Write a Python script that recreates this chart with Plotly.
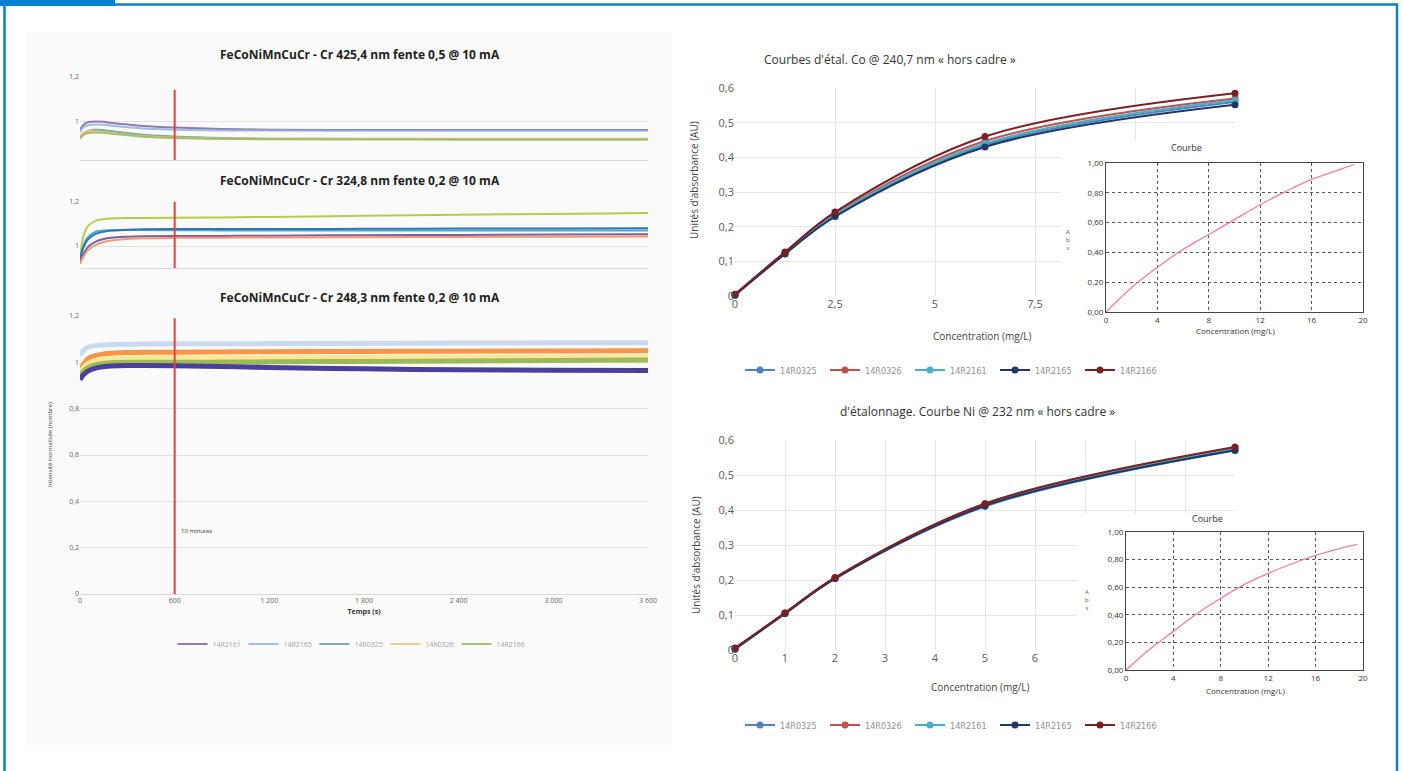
import plotly.graph_objects as go

W, H = 1403, 771


def fx(px):
    return px / W


def fy(py):
    return 1 - py / H


# ---------------- DATA ----------------
# Left panel: normalised intensity vs time (s)
T = [0, 20, 50, 100, 150, 200, 300, 400, 600, 900, 1200, 1800, 2400, 3000, 3600]
left_names = ["14R2161", "14R2165", "14R0325", "14R0326", "14R2166"]
TEN_MIN = 600

# Cr 425,4 nm
c1_s1 = [0.965, 0.985, 0.998, 1.002, 1.000, 0.995, 0.988, 0.982, 0.975, 0.968, 0.965, 0.964, 0.964, 0.964, 0.964]
c1_s2 = [0.955, 0.975, 0.985, 0.988, 0.987, 0.983, 0.976, 0.970, 0.965, 0.962, 0.961, 0.960, 0.960, 0.960, 0.960]
c1_s3 = [0.930, 0.948, 0.960, 0.965, 0.963, 0.958, 0.950, 0.943, 0.935, 0.928, 0.925, 0.924, 0.923, 0.923, 0.923]
c1_s4 = [0.935, 0.950, 0.958, 0.958, 0.955, 0.950, 0.943, 0.937, 0.930, 0.926, 0.925, 0.925, 0.925, 0.925, 0.925]
c1_s5 = [0.925, 0.940, 0.950, 0.953, 0.951, 0.947, 0.940, 0.934, 0.928, 0.924, 0.922, 0.921, 0.921, 0.921, 0.921]

# Cr 324,8 nm
c2_s1 = [0.930, 1.040, 1.090, 1.115, 1.122, 1.125, 1.127, 1.127, 1.128, 1.130, 1.132, 1.137, 1.142, 1.146, 1.150]
c2_s2 = [0.930, 1.000, 1.040, 1.065, 1.070, 1.072, 1.073, 1.073, 1.072, 1.071, 1.071, 1.070, 1.070, 1.070, 1.070]
c2_s3 = [0.930, 0.990, 1.030, 1.055, 1.065, 1.070, 1.074, 1.076, 1.077, 1.077, 1.077, 1.078, 1.079, 1.080, 1.081]
c2_s4 = [0.920, 0.960, 0.995, 1.020, 1.032, 1.038, 1.042, 1.044, 1.045, 1.046, 1.047, 1.049, 1.050, 1.052, 1.053]
c2_s5 = [0.920, 0.950, 0.980, 1.005, 1.018, 1.025, 1.032, 1.035, 1.037, 1.038, 1.039, 1.040, 1.041, 1.042, 1.043]

# Cr 248,3 nm
c3_s1 = [1.030, 1.050, 1.065, 1.072, 1.075, 1.077, 1.078, 1.079, 1.080, 1.080, 1.081, 1.082, 1.083, 1.084, 1.085]
c3_s2 = [0.960, 0.990, 1.015, 1.030, 1.036, 1.039, 1.042, 1.043, 1.044, 1.045, 1.046, 1.047, 1.048, 1.049, 1.050]
c3_s3 = [0.950, 0.975, 0.995, 1.008, 1.013, 1.016, 1.018, 1.019, 1.020, 1.020, 1.020, 1.021, 1.022, 1.023, 1.024]
c3_s4 = [0.940, 0.960, 0.978, 0.990, 0.995, 0.998, 1.000, 1.000, 1.000, 1.001, 1.002, 1.004, 1.006, 1.008, 1.010]
c3_s5 = [0.925, 0.945, 0.962, 0.975, 0.981, 0.984, 0.986, 0.986, 0.985, 0.982, 0.978, 0.972, 0.968, 0.966, 0.965]

left_x_ticks = [0, 600, 1200, 1800, 2400, 3000, 3600]

# Right panel: calibration curves
right_names = ["14R0325", "14R0326", "14R2161", "14R2165", "14R2166"]
right_colors = ["#4f81bd", "#c0504d", "#4bacc6", "#1f3864", "#7b1f22"]

co_x = [0, 1.25, 2.5, 6.25, 12.5]
co_14R0325 = [0.003, 0.122, 0.232, 0.435, 0.560]
co_14R0326 = [0.004, 0.125, 0.236, 0.447, 0.570]
co_14R2161 = [0.003, 0.124, 0.234, 0.440, 0.565]
co_14R2165 = [0.002, 0.121, 0.229, 0.430, 0.552]
co_14R2166 = [0.005, 0.127, 0.242, 0.460, 0.585]
co_tickvals = [0, 2.5, 5, 7.5, 10, 12.5]
co_ticktext = ["0", "2,5", "5", "7,5", "", ""]

ni_x = [0, 1, 2, 5, 10]
ni_14R0325 = [0.002, 0.104, 0.204, 0.410, 0.570]
ni_14R0326 = [0.004, 0.106, 0.206, 0.418, 0.578]
ni_14R2161 = [0.003, 0.105, 0.205, 0.414, 0.574]
ni_14R2165 = [0.003, 0.104, 0.204, 0.412, 0.571]
ni_14R2166 = [0.006, 0.106, 0.207, 0.418, 0.580]
ni_tickvals = [0, 1, 2, 3, 4, 5, 6, 7, 8, 9, 10]
ni_ticktext = ["0", "1", "2", "3", "4", "5", "6", "", "", "", ""]

# Insets ("Courbe")
inset_co_x = [0, 2, 4, 6, 8, 10, 12, 14, 16, 18, 19.3]
inset_co_y = [0, 0.165, 0.30, 0.42, 0.52, 0.62, 0.72, 0.81, 0.89, 0.95, 0.99]
inset_ni_x = [0, 2, 4, 6, 8, 10, 12, 14, 16, 18, 19.5]
inset_ni_y = [0, 0.15, 0.28, 0.41, 0.52, 0.62, 0.70, 0.77, 0.83, 0.88, 0.91]
inset_x_ticks = [0, 4, 8, 12, 16, 20]

# ---------------- FIGURE ----------------
fig = go.Figure()

c1_colors = ["#8064a2", "#8db3e2", "#5f9ea0", "#f0c36a", "#9bbb59"]
c2_colors = ["#b9cc4a", "#4bacc6", "#2e75b6", "#7f5fa8", "#f29b73"]
c3_colors = ["#c9daf0", "#f79646", "#ffe699", "#9bbb59", "#4b3f9c"]

for name, vals, col in zip(left_names, [c1_s1, c1_s2, c1_s3, c1_s4, c1_s5], c1_colors):
    fig.add_trace(go.Scatter(x=T, y=vals, mode="lines", name=name, line=dict(color=col, width=2, shape="spline"),
                             xaxis="x", yaxis="y", legend="legend", showlegend=True, opacity=0.85))
for name, vals, col in zip(left_names, [c2_s1, c2_s2, c2_s3, c2_s4, c2_s5], c2_colors):
    fig.add_trace(go.Scatter(x=T, y=vals, mode="lines", name=name, line=dict(color=col, width=2, shape="spline"),
                             xaxis="x2", yaxis="y2", showlegend=False))
for name, vals, col in zip(left_names, [c3_s1, c3_s2, c3_s3, c3_s4, c3_s5], c3_colors):
    fig.add_trace(go.Scatter(x=T, y=vals, mode="lines", name=name, line=dict(color=col, width=5, shape="spline"),
                             xaxis="x3", yaxis="y3", showlegend=False))

for name, vals, col in zip(right_names, [co_14R0325, co_14R0326, co_14R2161, co_14R2165, co_14R2166], right_colors):
    fig.add_trace(go.Scatter(x=co_x, y=vals, mode="lines+markers", name=name,
                             line=dict(color=col, width=2, shape="spline"), marker=dict(size=7, color=col),
                             xaxis="x4", yaxis="y4", legend="legend2", cliponaxis=False))
fig.add_trace(go.Scatter(x=inset_co_x, y=inset_co_y, mode="lines", line=dict(color="#f08098", width=1.3, shape="spline"),
                         xaxis="x5", yaxis="y5", showlegend=False))

for name, vals, col in zip(right_names, [ni_14R0325, ni_14R0326, ni_14R2161, ni_14R2165, ni_14R2166], right_colors):
    fig.add_trace(go.Scatter(x=ni_x, y=vals, mode="lines+markers", name=name,
                             line=dict(color=col, width=2, shape="spline"), marker=dict(size=7, color=col),
                             xaxis="x6", yaxis="y6", legend="legend3", cliponaxis=False))
fig.add_trace(go.Scatter(x=inset_ni_x, y=inset_ni_y, mode="lines", line=dict(color="#f08098", width=1.3, shape="spline"),
                         xaxis="x7", yaxis="y7", showlegend=False))

small_tick = dict(size=7, color="#666", family="Open Sans, sans-serif")
left_x_common = dict(range=[0, 3600], domain=[fx(80), fx(648)], showgrid=False, zeroline=False,
                     showline=True, linecolor="#d9d9d9", linewidth=1, tickvals=left_x_ticks, tickfont=small_tick, ticks="")
left_y_common = dict(showgrid=True, gridcolor="#e2e2e2", zeroline=False, tickfont=small_tick, ticks="")

# Co / Ni main range mapping (used for the inset masks)
CO_X_RANGE = [0, 12.5]
CO_Y_RANGE = [0, 0.6]
CO_PX = (735, 1235)
CO_PY = (88, 296)
NI_X_RANGE = [0, 10]
NI_Y_RANGE = [0, 0.6]
NI_PX = (735, 1235)
NI_PY = (440, 650)

right_tick = dict(size=11, color="#595959", family="Open Sans, sans-serif")
inset_tick = dict(size=8, color="#333", family="Open Sans, sans-serif")
legend_font = dict(size=9, color="#8f8f8f", family="Liberation Sans Narrow, DejaVu Sans Condensed, sans-serif")

fig.update_layout(
    width=W, height=H, margin=dict(l=0, r=0, t=0, b=0, pad=0, autoexpand=False),
    paper_bgcolor="white", plot_bgcolor="rgba(0,0,0,0)",
    separators=", ",
    font=dict(family="Open Sans, sans-serif", color="#333"),
    xaxis=dict(**left_x_common, showticklabels=False, anchor="y"),
    yaxis=dict(left_y_common, domain=[fy(160), fy(77)], range=[0.83, 1.2], tickvals=[1, 1.2], anchor="x"),
    xaxis2=dict(**left_x_common, showticklabels=False, anchor="y2"),
    yaxis2=dict(left_y_common, domain=[fy(268), fy(202)], range=[0.9, 1.2], tickvals=[1, 1.2], anchor="x2"),
    xaxis3=dict(**left_x_common, showticklabels=True, separatethousands=True, anchor="y3",
                title=dict(text="<b>Temps (s)</b>", font=dict(size=7, color="#333"), standoff=4)),
    yaxis3=dict(left_y_common, domain=[fy(594), fy(316)], range=[0, 1.2], dtick=0.2, anchor="x3"),
    xaxis4=dict(domain=[fx(CO_PX[0]), fx(CO_PX[1])], range=CO_X_RANGE, tickvals=co_tickvals, ticktext=co_ticktext,
                showgrid=True, gridcolor="#e6e6e6", zeroline=False, showline=False, ticks="", tickfont=right_tick,
                anchor="y4"),
    yaxis4=dict(domain=[fy(CO_PY[1]), fy(CO_PY[0])], range=CO_Y_RANGE, dtick=0.1, showgrid=True, gridcolor="#e6e6e6",
                zeroline=False, ticks="", tickfont=right_tick, anchor="x4"),
    xaxis5=dict(domain=[fx(1106), fx(1363)], range=[0, 20], tickvals=inset_x_ticks, showgrid=True, gridcolor="#555",
                griddash="dot", gridwidth=1, zeroline=False, showline=True, mirror=True, linecolor="#444",
                ticks="", tickfont=inset_tick, anchor="y5"),
    yaxis5=dict(domain=[fy(312), fy(163)], range=[0, 1], dtick=0.2, tickformat=".2f", showgrid=True,
                gridcolor="#555", griddash="dot", gridwidth=1, zeroline=False, showline=True, mirror=True,
                linecolor="#444", ticks="", tickfont=inset_tick, anchor="x5"),
    xaxis6=dict(domain=[fx(NI_PX[0]), fx(NI_PX[1])], range=NI_X_RANGE, tickvals=ni_tickvals, ticktext=ni_ticktext,
                showgrid=True, gridcolor="#e6e6e6", zeroline=False, showline=False, ticks="", tickfont=right_tick,
                anchor="y6"),
    yaxis6=dict(domain=[fy(NI_PY[1]), fy(NI_PY[0])], range=NI_Y_RANGE, dtick=0.1, showgrid=True, gridcolor="#e6e6e6",
                zeroline=False, ticks="", tickfont=right_tick, anchor="x6"),
    xaxis7=dict(domain=[fx(1126), fx(1363)], range=[0, 20], tickvals=inset_x_ticks, showgrid=True, gridcolor="#555",
                griddash="dot", gridwidth=1, zeroline=False, showline=True, mirror=True, linecolor="#444",
                ticks="", tickfont=inset_tick, anchor="y7"),
    yaxis7=dict(domain=[fy(670), fy(532)], range=[0, 1], dtick=0.2, tickformat=".2f", showgrid=True,
                gridcolor="#555", griddash="dot", gridwidth=1, zeroline=False, showline=True, mirror=True,
                linecolor="#444", ticks="", tickfont=inset_tick, anchor="x7"),
    legend=dict(orientation="h", x=fx(350), xanchor="center", y=fy(644), yanchor="middle",
                font=dict(size=7, color="#a5a5a5"), bgcolor="rgba(0,0,0,0)", itemwidth=30,
                entrywidth=26, entrywidthmode="pixels"),
    legend2=dict(orientation="h", x=fx(740), xanchor="left", y=fy(370), yanchor="middle",
                 font=legend_font, bgcolor="rgba(0,0,0,0)", itemwidth=30, entrywidth=40, entrywidthmode="pixels"),
    legend3=dict(orientation="h", x=fx(740), xanchor="left", y=fy(725), yanchor="middle",
                 font=legend_font, bgcolor="rgba(0,0,0,0)", itemwidth=30, entrywidth=40, entrywidthmode="pixels"),
)


def px_to_data(p, prange, drange, invert=False):
    a, b = prange
    frac = (p - a) / (b - a)
    if invert:
        frac = 1 - frac
    return drange[0] + frac * (drange[1] - drange[0])


shapes = []
BLUE = "#0a7fd0"
# faint background of left panel
shapes.append(dict(type="rect", xref="paper", yref="paper", x0=fx(26), x1=fx(672), y0=fy(745), y1=fy(32),
                   fillcolor="#fafafa", line=dict(width=0), layer="below"))
# blue frame
shapes.append(dict(type="path", xref="paper", yref="paper",
                   path=f"M {fx(4.5)},{fy(780)} L {fx(4.5)},{fy(4.5)} L {fx(1397)},{fy(4.5)} L {fx(1397)},{fy(780)}",
                   line=dict(color=BLUE, width=2.5), layer="above"))
shapes.append(dict(type="rect", xref="paper", yref="paper", x0=0, x1=fx(115), y0=fy(6), y1=1,
                   fillcolor=BLUE, line=dict(width=0), layer="above"))
# 10 minutes red lines
red = dict(color="#e8403f", width=2)
shapes.append(dict(type="line", xref="x", yref="y", x0=TEN_MIN, x1=TEN_MIN, y0=0.83, y1=1.142, line=red))
shapes.append(dict(type="line", xref="x2", yref="y2", x0=TEN_MIN, x1=TEN_MIN, y0=0.9, y1=1.2, line=red))
shapes.append(dict(type="line", xref="x3", yref="y3", x0=TEN_MIN, x1=TEN_MIN, y0=0, y1=1.19, line=red))
# masks hiding main gridlines behind the insets
shapes.append(dict(type="rect", xref="x4", yref="y4",
                   x0=px_to_data(1060, CO_PX, CO_X_RANGE), x1=CO_X_RANGE[1] + 1,
                   y0=-0.1, y1=px_to_data(140, CO_PY, CO_Y_RANGE, invert=True),
                   fillcolor="white", line=dict(width=0), layer="between"))
shapes.append(dict(type="rect", xref="x6", yref="y6",
                   x0=px_to_data(1078, NI_PX, NI_X_RANGE), x1=NI_X_RANGE[1] + 1,
                   y0=-0.1, y1=px_to_data(514, NI_PY, NI_Y_RANGE, invert=True),
                   fillcolor="white", line=dict(width=0), layer="between"))
fig.update_layout(shapes=shapes)

ann = []


def note(text, px, py, size, color="#333", bold=False, angle=0, xanchor="center", family="Open Sans, sans-serif"):
    t = f"<b>{text}</b>" if bold else text
    ann.append(dict(text=t, x=fx(px), y=fy(py), xref="paper", yref="paper", showarrow=False, textangle=angle,
                    xanchor=xanchor, yanchor="middle", font=dict(size=size, color=color, family=family)))


note("FeCoNiMnCuCr - Cr 425,4 nm fente 0,5 @ 10 mA", 360, 55, 12, "#222", bold=True)
note("FeCoNiMnCuCr - Cr 324,8 nm fente 0,2 @ 10 mA", 360, 180, 12, "#222", bold=True)
note("FeCoNiMnCuCr - Cr 248,3 nm fente 0,2 @ 10 mA", 360, 297, 12, "#222", bold=True)
note("Intensité normalisée (nombre)", 50, 445, 6, "#444", angle=-90)
ann.append(dict(text="10 minutes", x=TEN_MIN, xref="x3", y=fy(537), yref="paper", xanchor="left", xshift=4,
                showarrow=False, font=dict(size=6, color="#333")))

note("Courbes d'étal. Co @ 240,7 nm « hors cadre »", 890, 60, 12, "#333")
note("Unités d'absorbance (AU)", 694, 180, 10, "#444", angle=-90)
note("Concentration (mg/L)", 982, 336, 10, "#444")
note("Courbe", 1186, 147, 9, "#333")
note("A<br>b<br>s", 1068, 240, 6, "#555")
note("Concentration (mg/L)", 1235, 330, 8, "#333")

note("d'étalonnage. Courbe Ni @ 232 nm « hors cadre »", 977, 411, 12, "#333")
note("Unités d'absorbance (AU)", 696, 555, 10, "#444", angle=-90)
note("Concentration (mg/L)", 980, 687, 10, "#444")
note("Courbe", 1207, 518, 9, "#333")
note("A<br>b<br>s", 1087, 600, 6, "#555")
note("Concentration (mg/L)", 1245, 690, 8, "#333")

fig.update_layout(annotations=ann)

fig.write_html("out.html", config={"displayModeBar": False},
               post_script="document.body.style.margin='0';document.body.style.overflow='hidden';")
